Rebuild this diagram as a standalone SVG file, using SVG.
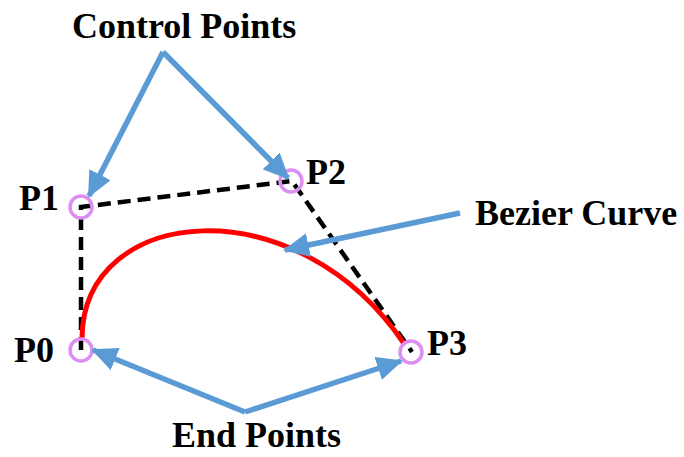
<svg xmlns="http://www.w3.org/2000/svg" width="684" height="457" viewBox="0 0 684 457">
<defs>
<marker id="ah" markerUnits="userSpaceOnUse" markerWidth="26" markerHeight="24" refX="24" refY="12" orient="auto">
<path d="M0,0 L26,12 L0,24 Z" fill="#5B9BD5"/>
</marker>
</defs>
<style>
text{font-family:"Liberation Serif","Times New Roman",serif;font-weight:bold;font-size:36px;fill:#000}
.pt{fill:none;stroke:#DD8EF2;stroke-width:3.5}
.dash{fill:none;stroke:#000;stroke-width:4.5;stroke-dasharray:13 7}
.arr{fill:none;stroke:#5B9BD5;stroke-width:5.5;stroke-linejoin:miter;marker-end:url(#ah)}
</style>
<rect width="684" height="457" fill="#fff"/>
<g id="control-polygon">
<path class="dash" d="M81,350 L81,207 L292,181 L412,352"/>
</g>
<g id="bezier-curve">
<path d="M82,338 C83,205 296,183 405,345" fill="none" stroke="#FF0000" stroke-width="5"/>
</g>
<g id="P0"><circle class="pt" cx="81" cy="350" r="11"/><text x="14" y="362">P0</text></g>
<g id="P1"><circle class="pt" cx="81" cy="207" r="11"/><text x="19" y="210">P1</text></g>
<g id="P2"><circle class="pt" cx="291" cy="181" r="11"/><text x="306" y="184">P2</text></g>
<g id="P3"><circle class="pt" cx="411" cy="352" r="11"/><text x="427" y="355">P3</text></g>
<g id="connectors">
<path class="arr" d="M163,52 L89,196"/>
<path class="arr" d="M163,52 L288,178"/>
<path class="arr" d="M460,213 L285,250"/>
<path class="arr" d="M245,412 L93,350"/>
<path class="arr" d="M245,412 L401,361"/>
</g>
<g id="labels">
<text x="72" y="38">Control Points</text>
<text x="475" y="225">Bezier Curve</text>
<text x="172" y="447">End Points</text>
</g>
</svg>
